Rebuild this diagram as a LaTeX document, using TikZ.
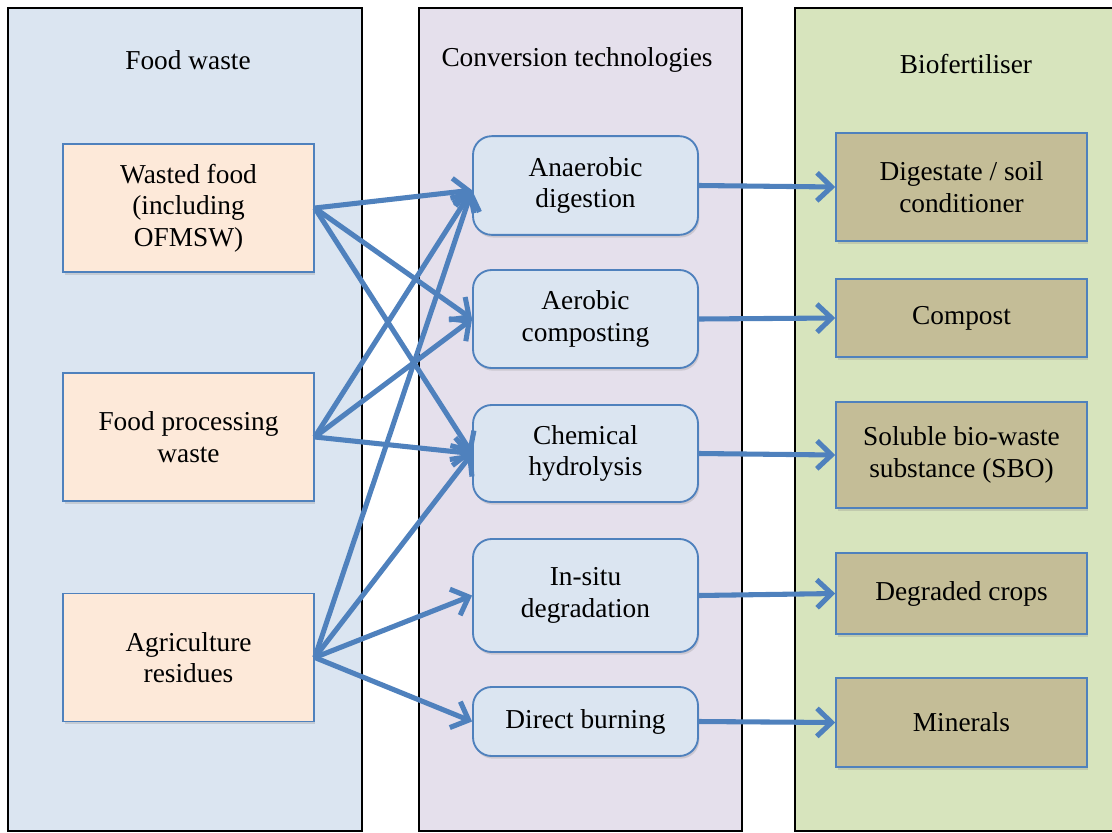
\documentclass[tikz,border=0pt]{standalone}
\usepackage{fontspec}
\setmainfont{Liberation Serif}
\usetikzlibrary{arrows.meta,shadows}

\definecolor{officeblue}{HTML}{4F81BD}
\definecolor{wastelane}{HTML}{DBE5F1}
\definecolor{techlane}{HTML}{E5E0EC}
\definecolor{fertlane}{HTML}{D7E4BD}
\definecolor{wastefill}{HTML}{FDE9D9}
\definecolor{techfill}{HTML}{DBE5F1}
\definecolor{fertfill}{HTML}{C4BD97}

\begin{document}
\begin{tikzpicture}[x=0.75pt, y=-0.75pt,
        every node/.style={font=\fontsize{20.5}{23.5}\selectfont, align=center, inner sep=2pt},
        lane/.style={draw=black, line width=1.5pt},
        stage/.style={draw=officeblue, line width=1.4pt, minimum width=188pt,
            drop shadow={opacity=0.25, shadow xshift=1pt, shadow yshift=-2pt}},
        wastenode/.style={stage, fill=wastefill, minimum height=96pt},
        technode/.style={stage, fill=techfill, rounded corners=14pt, minimum width=168.75pt},
        fertnode/.style={stage, fill=fertfill},
        flowarrow/.style={draw=officeblue, line width=3.8pt, -{Straight Barb[length=11pt, width=21pt]}}]
    \useasboundingbox (0,0) rectangle (1112,832);

    % the three lanes
    \draw[lane, fill=wastelane] (8,8) rectangle (362,831);
    \draw[lane, fill=techlane] (419,8) rectangle (742,831);
    \draw[lane, fill=fertlane] (795,8) rectangle (1118,831);
    \node (wastetitle) at (188,60) {Food waste};
    \node (techtitle) at (577,60) {Conversion technologies};
    \node (ferttitle) at (966,64) {Biofertiliser};

    % food waste sources
    \node[wastenode] (wasted) at (188.5,208) {Wasted food\\(including\\OFMSW)};
    \node[wastenode] (processing) at (188.5,437) {Food processing\\waste};
    \node[wastenode] (agri) at (188.5,657.5) {Agriculture\\residues};

    % conversion technologies
    \node[technode, minimum height=74pt] (anaerobic) at (585.5,185.5) {Anaerobic\\digestion};
    \node[technode, minimum height=73.5pt] (aerobic) at (585.5,319) {Aerobic\\composting};
    \node[technode, minimum height=72.75pt] (chemical) at (585.5,453.5) {Chemical\\hydrolysis};
    \node[technode, minimum height=84.75pt] (insitu) at (585.5,595.5) {In-situ\\degradation};
    \node[technode, minimum height=51.75pt] (burning) at (585.5,721.5) {Direct burning};

    % biofertiliser products
    \node[fertnode, minimum height=81pt] (digestate) at (961.5,187) {Digestate / soil\\conditioner};
    \node[fertnode, minimum height=58.5pt] (compost) at (961.5,318) {Compost};
    \node[fertnode, minimum height=79.5pt] (sbo) at (961.5,455) {Soluble bio-waste\\substance (SBO)};
    \node[fertnode, minimum height=60.75pt] (degraded) at (961.5,593.5) {Degraded crops};
    \node[fertnode, minimum height=66.75pt] (minerals) at (961.5,722.5) {Minerals};

    \coordinate (anaerobicin) at ([yshift=-3.5pt]anaerobic.west);
    \foreach \src/\dst in {wasted/anaerobicin, processing/anaerobicin, agri/anaerobicin,
            wasted/aerobic.west, wasted/chemical.west,
            processing/aerobic.west, processing/chemical.west,
            agri/chemical.west, agri/insitu.west, agri/burning.west}
        \draw[flowarrow] (\src.east) -- (\dst);
    \foreach \src/\dst in {anaerobic/digestate, aerobic/compost, chemical/sbo,
            insitu/degraded, burning/minerals}
        \draw[flowarrow] (\src.east) -- (\dst.west);
\end{tikzpicture}
\end{document}
